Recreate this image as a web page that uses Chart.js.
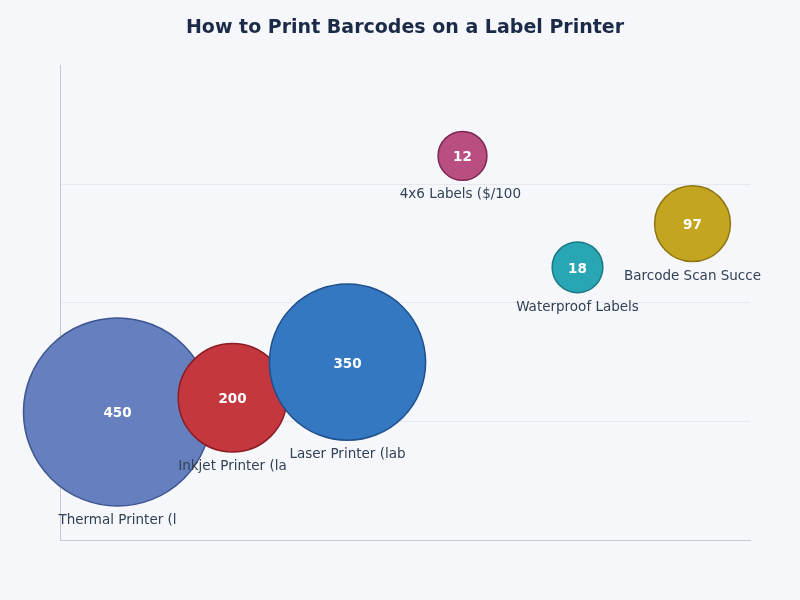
<!DOCTYPE html>
<html>
<head>
<meta charset="utf-8">
<script src="https://cdn.jsdelivr.net/npm/chart.js@4/dist/chart.umd.min.js"></script>
<style>
  html, body { margin: 0; padding: 0; background: #f5f7fb; }
  #wrap { width: 800px; height: 600px; }
</style>
</head>
<body>
<div id="wrap"><canvas id="chart"></canvas></div>
<script>
// data
const names = [
  'Thermal Printer (labels/hr)',
  'Inkjet Printer (labels/hr)',
  'Laser Printer (labels/hr)',
  '4x6 Labels ($/100 pack)',
  'Waterproof Labels',
  'Barcode Scan Success (%)'
];
const values = [450, 200, 350, 12, 18, 97];
const yScores = [27, 30, 37.5, 81, 57.5, 66.7];

const fills = ['#6680bf', '#c4373f', '#3378c1', '#b84f80', '#29a6b4', '#c4a520'];
const borders = ['#3d5590', '#8c1c23', '#1f4f8c', '#7f2652', '#197985', '#8e7612'];

const maxVal = Math.max(...values);
const points = values.map((v, i) => ({
  x: i,
  y: yScores[i],
  r: 22.5 + 71.5 * v / maxVal,
  v: v
}));

const bubbleLabels = {
  id: 'bubbleLabels',
  afterDatasetsDraw(chart) {
    const ctx = chart.ctx;
    const meta = chart.getDatasetMeta(0);
    ctx.save();
    ctx.textAlign = 'center';
    ctx.textBaseline = 'middle';
    meta.data.forEach((el, i) => {
      const r = points[i].r;
      ctx.font = 'bold 13.5px "DejaVu Sans"';
      ctx.fillStyle = '#ffffff';
      ctx.fillText(String(values[i]), el.x, el.y + 2);
      ctx.font = '13.5px "DejaVu Sans"';
      ctx.fillStyle = '#334155';
      ctx.fillText(names[i].slice(0, 18), el.x, el.y + r + 14.5);
    });
    ctx.restore();
  }
};

new Chart(document.getElementById('chart'), {
  type: 'bubble',
  data: {
    datasets: [{
      data: points,
      backgroundColor: fills,
      borderColor: borders,
      borderWidth: 1.5,
      hoverRadius: 0,
      clip: false
    }]
  },
  options: {
    responsive: true,
    maintainAspectRatio: false,
    animation: false,
    layout: { autoPadding: false, padding: { left: 60, right: 50, bottom: 52, top: 0 } },
    plugins: {
      legend: { display: false },
      tooltip: { enabled: false },
      title: {
        display: true,
        text: 'How to Print Barcodes on a Label Printer',
        color: '#1b2a47',
        font: { family: 'DejaVu Sans', size: 19, weight: 'bold' },
        padding: { top: 17, bottom: 26 }
      }
    },
    scales: {
      x: {
        type: 'linear',
        min: -0.5,
        max: 5.5,
        ticks: { display: false },
        grid: { display: false },
        border: { display: true, color: '#c4c8d0', width: 1 }
      },
      y: {
        min: 0,
        max: 100,
        ticks: { display: false, stepSize: 25 },
        grid: {
          drawTicks: false,
          color: ctx => (ctx.tick && ctx.tick.value > 0 && ctx.tick.value < 100) ? '#e6e9ef' : 'rgba(0,0,0,0)'
        },
        border: { display: true, color: '#c4c8d0', width: 1 }
      }
    }
  },
  plugins: [bubbleLabels]
});
</script>
</body>
</html>
